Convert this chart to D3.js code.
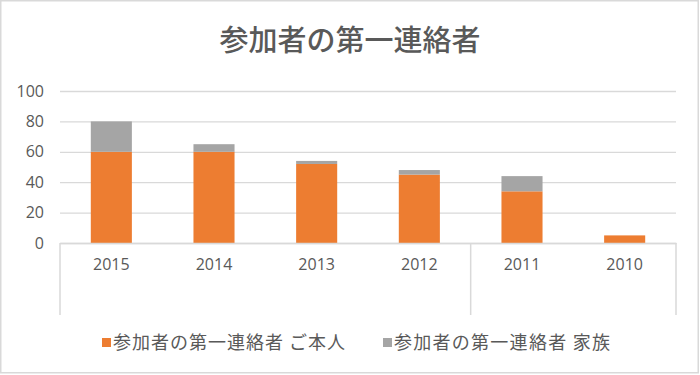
<!DOCTYPE html>
<html>
<head>
<meta charset="utf-8">
<script src="https://cdn.jsdelivr.net/npm/d3@7"></script>
<style>
  body { margin: 0; background: #fff; }
  svg text { fill: #595959; }
</style>
</head>
<body>
<div id="chart"></div>
<script>
// data
var years = ['2015', '2014', '2013', '2012', '2011', '2010'];
var honnin = [60, 60, 52, 45, 34, 5];   // ご本人
var kazoku = [20, 5, 2, 3, 10, 0];      // 家族
var yTicks = [0, 20, 40, 60, 80, 100];
var seriesNames = ['参加者の第一連絡者 ご本人', '参加者の第一連絡者 家族'];
var colors = ['#ed7d31', '#a5a5a5'];

var width = 700, height = 375;
var jp = '"Noto Sans CJK JP", "Noto Sans", sans-serif';
var num = '"Open Sans", "Noto Sans", sans-serif';

var svg = d3.select('#chart').append('svg')
    .attr('width', width)
    .attr('height', height);

svg.append('rect')
    .attr('x', 0.75).attr('y', 0.75)
    .attr('width', 697.5).attr('height', 372)
    .attr('fill', '#fff')
    .attr('stroke', '#d9d9d9')
    .attr('stroke-width', 1.5);

var x = d3.scaleBand()
    .domain(years)
    .range([60, 676])
    .paddingInner(0.6)
    .paddingOuter(0.3);

var y = d3.scaleLinear()
    .domain([0, 100])
    .range([243, 91]);

// gridlines + y labels
var yAxis = svg.append('g')
    .attr('transform', 'translate(60,0)')
    .call(d3.axisLeft(y).tickValues(yTicks).tickSize(-616).tickPadding(16));
yAxis.select('.domain').remove();
yAxis.selectAll('line').attr('stroke', '#d9d9d9').attr('stroke-width', 1.3);
yAxis.selectAll('text')
    .style('font-family', num)
    .style('font-size', '16px')
    .attr('fill', '#595959');

var rows = years.map(function(yr, i) {
    return { year: yr, honnin: honnin[i], kazoku: kazoku[i] };
});
var stacked = d3.stack().keys(['honnin', 'kazoku'])(rows);

svg.selectAll('g.series')
    .data(stacked)
    .enter().append('g')
    .attr('class', 'series')
    .attr('fill', function(d, i) { return colors[i]; })
    .selectAll('rect')
    .data(function(d) { return d; })
    .enter().append('rect')
    .attr('x', function(d) { return x(d.data.year); })
    .attr('width', x.bandwidth())
    .attr('y', function(d) { return y(d[1]); })
    .attr('height', function(d) { return y(d[0]) - y(d[1]); });

// category axis
var xAxis = svg.append('g')
    .attr('transform', 'translate(0,243)')
    .call(d3.axisBottom(x).tickSize(0).tickPadding(16));
xAxis.select('.domain').attr('stroke', '#d9d9d9').attr('stroke-width', 1.5);
xAxis.selectAll('text')
    .style('font-family', num)
    .style('font-size', '16px')
    .attr('fill', '#595959');

// group dividers of the two-level axis
var dividers = [years[0], years[4], null];
svg.selectAll('line.div')
    .data(dividers)
    .enter().append('line')
    .attr('class', 'div')
    .attr('x1', function(d) { return d ? x(d) - x.step() * 0.3 : x.range()[1]; })
    .attr('x2', function(d) { return d ? x(d) - x.step() * 0.3 : x.range()[1]; })
    .attr('y1', 243)
    .attr('y2', 315)
    .attr('stroke', '#d9d9d9')
    .attr('stroke-width', 1.5);

// title
svg.append('text')
    .attr('x', 350)
    .attr('y', 51)
    .attr('text-anchor', 'middle')
    .style('font-family', jp)
    .style('font-size', '29px')
    .style('font-weight', 500)
    .text('参加者の第一連絡者');

// legend
var legendX = [102, 383];
var legendW = [232, 216];
var legend = svg.selectAll('g.legend')
    .data(seriesNames)
    .enter().append('g')
    .attr('class', 'legend')
    .attr('transform', function(d, i) { return 'translate(' + legendX[i] + ',338)'; });
legend.append('rect')
    .attr('width', 9).attr('height', 9)
    .attr('fill', function(d, i) { return colors[i]; });
legend.append('text')
    .attr('x', 11)
    .attr('y', 11)
    .attr('textLength', function(d, i) { return legendW[i]; })
    .attr('lengthAdjust', 'spacing')
    .style('font-family', jp)
    .style('font-size', '18px')
    .text(function(d) { return d; });
</script>
</body>
</html>
